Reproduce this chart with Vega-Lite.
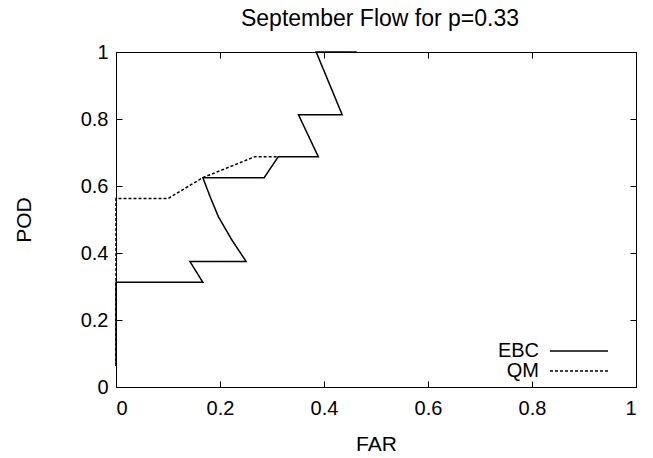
{
  "$schema": "https://vega.github.io/schema/vega-lite/v6.json",
  "width": 520,
  "height": 335,
  "autosize": {"type": "none"},
  "padding": {"left": 116, "top": 52, "right": 17, "bottom": 71},
  "background": "white",
  "title": {"text": "September Flow for p=0.33", "font": "Liberation Sans", "fontSize": 23, "fontWeight": "normal", "color": "black", "offset": 11, "dx": 4},
  "config": {
    "view": {"stroke": "black", "strokeWidth": 1},
    "axis": {"grid": false, "domain": false, "tickColor": "black", "tickSize": -6, "labelFont": "Liberation Sans", "labelFontSize": 20, "labelColor": "black", "titleFont": "Liberation Sans", "titleFontSize": 21, "titleFontWeight": "normal", "titleColor": "black"}
  },
  "data": {"values": [
    {"method": "QM", "o": 1, "far": 0, "pod": 0.0625},
    {"method": "QM", "o": 2, "far": 0, "pod": 0.5625},
    {"method": "QM", "o": 3, "far": 0.1, "pod": 0.5625},
    {"method": "QM", "o": 4, "far": 0.167, "pod": 0.625},
    {"method": "QM", "o": 5, "far": 0.267, "pod": 0.6875},
    {"method": "QM", "o": 6, "far": 0.312, "pod": 0.6875},
    {"method": "EBC", "o": 1, "far": 0, "pod": 0.0625},
    {"method": "EBC", "o": 2, "far": 0, "pod": 0.3125},
    {"method": "EBC", "o": 3, "far": 0.167, "pod": 0.3125},
    {"method": "EBC", "o": 4, "far": 0.142, "pod": 0.375},
    {"method": "EBC", "o": 5, "far": 0.25, "pod": 0.375},
    {"method": "EBC", "o": 6, "far": 0.222, "pod": 0.441},
    {"method": "EBC", "o": 7, "far": 0.197, "pod": 0.508},
    {"method": "EBC", "o": 8, "far": 0.181, "pod": 0.568},
    {"method": "EBC", "o": 9, "far": 0.167, "pod": 0.625},
    {"method": "EBC", "o": 10, "far": 0.285, "pod": 0.625},
    {"method": "EBC", "o": 11, "far": 0.312, "pod": 0.6875},
    {"method": "EBC", "o": 12, "far": 0.389, "pod": 0.6875},
    {"method": "EBC", "o": 13, "far": 0.351, "pod": 0.8125},
    {"method": "EBC", "o": 14, "far": 0.435, "pod": 0.8125},
    {"method": "EBC", "o": 15, "far": 0.385, "pod": 1.0},
    {"method": "EBC", "o": 16, "far": 0.463, "pod": 1.0}
  ]},
  "resolve": {"axis": {"x": "independent", "y": "independent"}},
  "layer": [
    {
      "mark": {"type": "line", "strokeWidth": 1.5, "clip": false},
      "encoding": {
        "x": {"field": "far", "type": "quantitative", "scale": {"domain": [0, 1], "nice": false, "zero": false},
              "axis": {"orient": "bottom", "title": "FAR", "values": [0, 0.2, 0.4, 0.6, 0.8, 1], "format": ".1~f", "labelPadding": 17, "titlePadding": 15}},
        "y": {"field": "pod", "type": "quantitative", "scale": {"domain": [0, 1], "nice": false, "zero": false},
              "axis": {"orient": "left", "title": "POD", "values": [0, 0.2, 0.4, 0.6, 0.8, 1], "format": ".1~f", "labelPadding": 14, "titlePadding": 46}},
        "order": {"field": "o", "type": "quantitative"},
        "color": {"field": "method", "type": "nominal", "scale": {"domain": ["EBC", "QM"], "range": ["black", "black"]},
                  "legend": {"title": null, "orient": "none", "legendX": 453, "legendY": 289, "padding": 0, "symbolType": "M-5,0H5", "symbolSize": 134.5, "symbolStrokeWidth": 1.5, "labelAlign": "right", "labelOffset": -50, "labelFont": "Liberation Sans", "labelFontSize": 20, "labelColor": "black", "rowPadding": 0}},
        "strokeDash": {"field": "method", "type": "nominal", "scale": {"domain": ["EBC", "QM"], "range": [[1, 0], [3, 2]]}}
      }
    },
    {
      "mark": {"type": "line", "opacity": 0},
      "encoding": {
        "x": {"field": "far", "type": "quantitative", "axis": {"orient": "top", "title": null, "labels": false, "values": [0, 0.2, 0.4, 0.6, 0.8, 1]}},
        "y": {"field": "pod", "type": "quantitative", "axis": {"orient": "right", "title": null, "labels": false, "values": [0, 0.2, 0.4, 0.6, 0.8, 1]}},
        "detail": {"field": "method"}
      }
    }
  ]
}
